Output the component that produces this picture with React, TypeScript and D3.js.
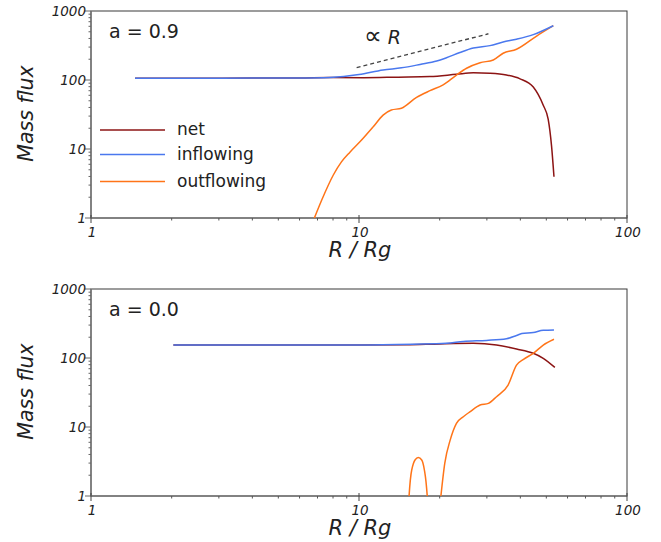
import React from "react";
import * as d3 from "d3";

// ---------- data (R / Rg, mass flux) ----------
const xTicks = [1, 10, 100];
const yTicks = [1, 10, 100, 1000];
const xTickLabels = ["1", "10", "100"];
const yTickLabels = ["1", "10", "100", "1000"];
const legendLabels = ["net", "inflowing", "outflowing"];
const panelLabels = ["a = 0.9", "a = 0.0"];

// a = 0.9
const topNetR = [1.46, 2.5, 4, 6, 7.8, 10.4, 14, 18.4, 23.1, 26.7, 30.8, 35.5, 39.9, 44.7, 48.7, 50.8, 52.3, 53.4];
const topNetF = [106, 106, 106.5, 107, 108.5, 108, 110, 112, 121, 127, 125, 118, 104, 79, 43, 27, 11, 3.97];
const topInR = [1.46, 2.5, 4, 6, 7.8, 10, 12.3, 14.4, 16.9, 19.5, 21.2, 23.8, 26.7, 30.8, 34.5, 38.7, 44.7, 53.1];
const topInF = [106, 106, 106.5, 107, 109, 120, 140, 150, 168, 188, 210, 250, 290, 315, 355, 390, 455, 612];
const topOutR = [6.81, 7.26, 8.02, 8.6, 9.25, 10.1, 11.3, 12.3, 13.2, 14.4, 16.4, 18.4, 20.6, 23.1, 25.2, 28.3, 31.7, 34.5, 38.7, 46, 53.1];
const topOutF = [0.99, 1.82, 4.2, 6.5, 9, 12.8, 21, 31, 36.7, 39, 56, 70, 85, 118, 148, 178, 195, 244, 279, 434, 612];
const slopeR = [9.8, 30.4];
const slopeF = [151, 468];

// a = 0.0
const botNetR = [2.03, 5, 10, 15, 20, 26.7, 32.6, 38.7, 44.7, 48.7, 53.8];
const botNetF = [154, 154, 154, 155, 160, 163, 154, 135, 117, 99, 73];
const botInR = [2.03, 5, 10, 15.9, 21.2, 24.5, 29.9, 35.5, 38.7, 40.5, 44.7, 48.7, 53.4];
const botInF = [154, 154, 154, 158, 163, 174, 180, 190, 212, 226, 234, 252, 255];
const botOutArchR = [15.37, 15.73, 16.18, 16.64, 17.14, 17.62, 17.98];
const botOutArchF = [0.98, 2.38, 3.32, 3.6, 3.32, 2.13, 0.98];
const botOutR = [20.2, 20.9, 21.9, 23.1, 24.5, 26, 28.3, 30.4, 32.6, 36, 38.7, 41.1, 44.7, 48.7, 53.4];
const botOutF = [0.98, 3.0, 6.5, 11.3, 14.1, 16.7, 20.8, 22, 27.5, 40.6, 79, 95.7, 117, 154, 187];

// ---------- styles ----------
const C_NET = "#8c1414";
const C_IN = "#4a78ee";
const C_OUT = "#ff7418";
const FONT = "'DejaVu Sans', sans-serif";

const X0 = 91, X1 = 627;
const H = 207;

const zip = (r: number[], f: number[]) => r.map((v, i) => [v, f[i]] as [number, number]);

type Series = { pts: [number, number][]; color: string; curve?: any };

function Panel({ top, label, series, legend, slope, id }: { top: number; label: string; series: Series[]; legend?: boolean; slope?: boolean; id: string }) {
  const x = d3.scaleLog().domain([1, 100]).range([X0, X1]);
  const y = d3.scaleLog().domain([1, 1000]).range([top + H, top]);
  const bottom = top + H;

  const minorX: number[] = [];
  const minorY: number[] = [];
  for (let d = 1; d < 100; d *= 10) for (let k = 2; k <= 9; k++) minorX.push(d * k);
  for (let d = 1; d < 1000; d *= 10) for (let k = 2; k <= 9; k++) minorY.push(d * k);

  return (
    <g>
      <defs>
        <clipPath id={id}>
          <rect x={X0} y={top} width={X1 - X0} height={H} />
        </clipPath>
      </defs>
      <rect x={X0} y={top} width={X1 - X0} height={H} fill="none" stroke="#3a3a3a" strokeWidth={1} />
      <line x1={X0} x2={X0} y1={top} y2={bottom} stroke="#7a7a7a" strokeWidth={1.5} />
      <line x1={X0} x2={X1} y1={bottom} y2={bottom} stroke="#7a7a7a" strokeWidth={1.5} />
      {minorY.map((v) => (
        <line key={"my" + v} x1={X0 - 2.5} x2={X0} y1={y(v)} y2={y(v)} stroke="#666" strokeWidth={1} />
      ))}
      {yTicks.map((v) => (
        <line key={"Y" + v} x1={X0 - 6} x2={X0} y1={y(v)} y2={y(v)} stroke="#666" strokeWidth={1} />
      ))}
      {minorX.map((v) => (
        <line key={"mx" + v} x1={x(v)} x2={x(v)} y1={bottom} y2={bottom + 2.5} stroke="#555" strokeWidth={1} />
      ))}
      {xTicks.map((v) => (
        <line key={"X" + v} x1={x(v)} x2={x(v)} y1={bottom - 3} y2={bottom + 5} stroke="#444" strokeWidth={1} />
      ))}
      {yTicks.map((v, i) => (
        <text key={"yl" + v} x={X0 - 5} y={y(v)} dy="0.36em" textAnchor="end" fontFamily={FONT} fontStyle="italic" fontSize={13.5} fill="#222">
          {yTickLabels[i]}
        </text>
      ))}
      {xTicks.map((v, i) => (
        <text key={"xl" + v} x={x(v) + 1} y={bottom + 18.5} textAnchor="middle" fontFamily={FONT} fontStyle="italic" fontSize={13.5} fill="#222">
          {xTickLabels[i]}
        </text>
      ))}
      <text x={360} y={bottom + 39} textAnchor="middle" fontFamily={FONT} fontStyle="italic" fontSize={21} fill="#222">
        R / Rg
      </text>
      <text transform={`translate(33,${top + H / 2 - 1}) rotate(-90)`} textAnchor="middle" fontFamily={FONT} fontStyle="italic" fontSize={20.5} fill="#222">
        Mass flux
      </text>
      <text x={109} y={top + 27} fontFamily={FONT} fontSize={19} fill="#222">
        {label}
      </text>
      <g clipPath={`url(#${id})`}>
        {series.map((s, i) => {
          const line = d3
            .line<[number, number]>()
            .x((d) => x(d[0]))
            .y((d) => y(d[1]))
            .curve(s.curve || d3.curveMonotoneX);
          return <path key={i} d={line(s.pts) || ""} fill="none" stroke={s.color} strokeWidth={1.5} strokeLinejoin="round" />;
        })}
      </g>
      {slope && (
        <g>
          <line x1={x(slopeR[0])} y1={y(slopeF[0])} x2={x(slopeR[1])} y2={y(slopeF[1])} stroke="#444" strokeWidth={1.3} strokeDasharray="4,3" />
          <text x={364} y={top + 33} fontFamily={FONT} fill="#222">
            <tspan fontSize={25}>∝</tspan>
            <tspan fontSize={19} dx={6} fontStyle="italic">R</tspan>
          </text>
        </g>
      )}
      {legend && (
        <g>
          {[C_NET, C_IN, C_OUT].map((c, i) => {
            const ly = [130, 154.5, 181.5][i];
            return (
              <g key={c}>
                <line x1={100} x2={165} y1={ly} y2={ly} stroke={c} strokeWidth={1.5} />
                <text x={177} y={ly} dy="0.3em" fontFamily={FONT} fontSize={17} fill="#222">
                  {legendLabels[i]}
                </text>
              </g>
            );
          })}
        </g>
      )}
    </g>
  );
}

export default function App() {
  const topSeries: Series[] = [
    { pts: zip(topNetR, topNetF), color: C_NET },
    { pts: zip(topOutR, topOutF), color: C_OUT },
    { pts: zip(topInR, topInF), color: C_IN },
  ];
  const botSeries: Series[] = [
    { pts: zip(botNetR, botNetF), color: C_NET },
    { pts: zip(botOutArchR, botOutArchF), color: C_OUT, curve: d3.curveCatmullRom },
    { pts: zip(botOutR, botOutF), color: C_OUT },
    { pts: zip(botInR, botInF), color: C_IN },
  ];
  return (
    <svg width={661} height={542} style={{ position: "absolute", left: 0, top: 0, background: "#fff" }}>
      <rect width={661} height={542} fill="#fff" />
      <Panel top={11} label={panelLabels[0]} series={topSeries} legend slope id="clipTop" />
      <Panel top={289} label={panelLabels[1]} series={botSeries} id="clipBot" />
    </svg>
  );
}
